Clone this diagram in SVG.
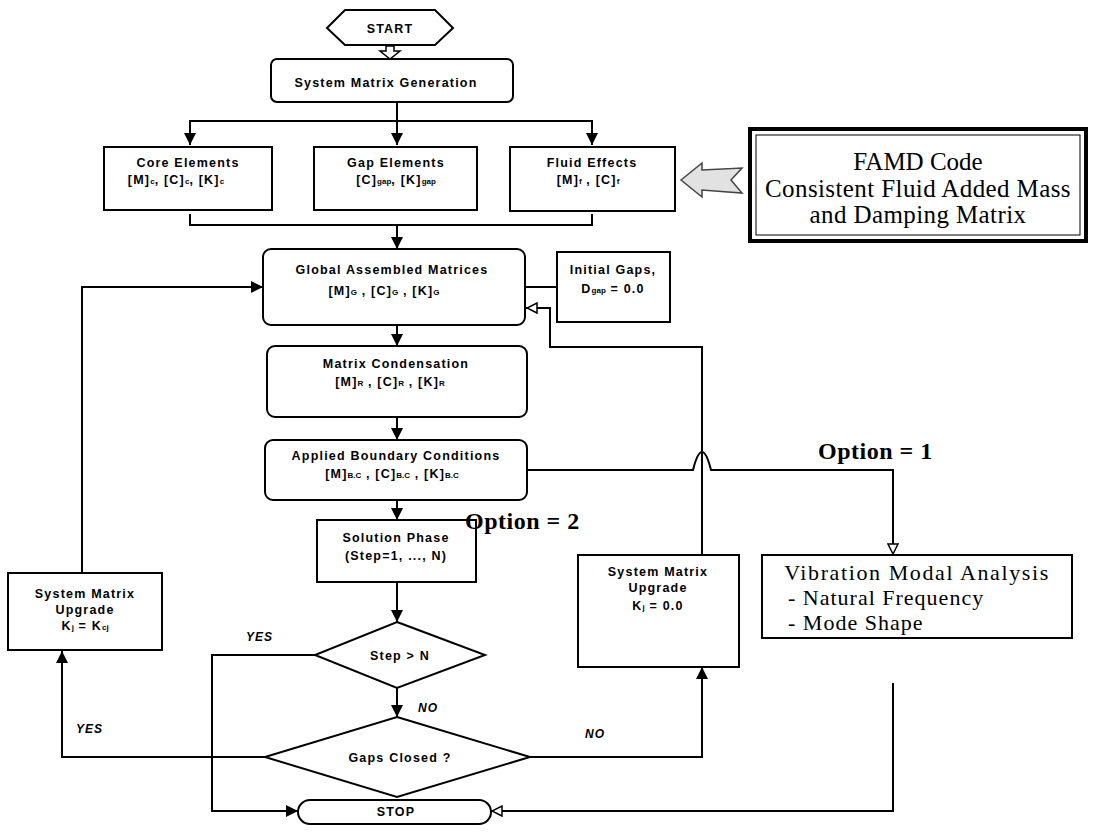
<svg xmlns="http://www.w3.org/2000/svg" width="1099" height="833" viewBox="0 0 1099 833">
<defs>
<style>
.box{fill:#fff;stroke:#000;stroke-width:2}
.ln{fill:none;stroke:#000;stroke-width:2}
.t{font-family:"Liberation Sans",Arial,sans-serif;font-weight:bold;font-size:12.5px;letter-spacing:1.2px;fill:#000;text-anchor:middle}
.s{font-size:8px;letter-spacing:0}
.lab{font-family:"Liberation Sans",Arial,sans-serif;font-weight:bold;font-style:italic;font-size:12px;letter-spacing:1px;fill:#000}
.serif{font-family:"Liberation Serif","Times New Roman",serif;fill:#000}
</style>
<marker id="af" viewBox="0 0 12 12" refX="12" refY="6" markerWidth="12" markerHeight="12" markerUnits="userSpaceOnUse" orient="auto"><path d="M0,0 L12,6 L0,12 Z" fill="#000"/></marker>
<marker id="ah" viewBox="0 0 12 12" refX="12" refY="6" markerWidth="12" markerHeight="12" markerUnits="userSpaceOnUse" orient="auto"><path d="M1,1 L11,6 L1,11 Z" fill="#fff" stroke="#000" stroke-width="1.5"/></marker>
</defs>
<rect width="1099" height="833" fill="#fff"/>

<g id="connectors">
<polygon points="386,46 394,46 394,51 400,51 390,59 380,51 386,51" fill="#fff" stroke="#000" stroke-width="1.5"/>
<path class="ln" d="M397,102 V121"/>
<path class="ln" d="M190,121 H592"/>
<path class="ln" d="M190,120 V145" marker-end="url(#af)"/>
<path class="ln" d="M397,120 V145" marker-end="url(#af)"/>
<path class="ln" d="M592,120 V145" marker-end="url(#af)"/>
<path class="ln" d="M190,214 V225 H592 V214"/>
<path class="ln" d="M397,225 V249" marker-end="url(#af)"/>
<path class="ln" d="M397,325 V346" marker-end="url(#af)"/>
<path class="ln" d="M397,417 V440" marker-end="url(#af)"/>
<path class="ln" d="M397,500 V520" marker-end="url(#af)"/>
<path class="ln" d="M397,582 V622" marker-end="url(#af)"/>
<path class="ln" d="M397,688 V717" marker-end="url(#af)"/>
<path class="ln" d="M525,287 H557"/>
<path class="ln" d="M702,555 V347 H550 V308 H526" marker-end="url(#ah)"/>
<path class="ln" d="M315,655 H212 V811 H298" marker-end="url(#af)"/>
<path class="ln" d="M265,757 H62 V651" marker-end="url(#af)"/>
<path class="ln" d="M82,573 V287 H263" marker-end="url(#af)"/>
<path class="ln" d="M530,757 H702 V667" marker-end="url(#af)"/>
<path class="ln" d="M527,470 H693 Q702,434 711,470 H893 V555" marker-end="url(#ah)"/>
<path class="ln" d="M893,683 V811 H491" marker-end="url(#ah)"/>
<polygon points="681,180 702,163 702,170 742,168 731,180 742,193 702,190 702,197" fill="#e2e2e2" stroke="#444" stroke-width="1.5"/>
</g>

<g id="start">
<polygon class="box" points="327,28 345,10 435,10 453,28 435,45 345,45"/>
<text class="t" x="390" y="33">START</text>
</g>

<g id="smg">
<rect class="box" x="271" y="59" width="242" height="43" rx="6"/>
<text class="t" x="386" y="87">System Matrix Generation</text>
</g>

<g id="core">
<rect class="box" x="104" y="147" width="168" height="63"/>
<text class="t" x="188" y="167">Core Elements</text>
<text class="t" x="176" y="184">[M]<tspan class="s">c</tspan>, [C]<tspan class="s">c</tspan>, [K]<tspan class="s">c</tspan></text>
</g>

<g id="gap">
<rect class="box" x="314" y="147" width="163" height="63"/>
<text class="t" x="396" y="167">Gap Elements</text>
<text class="t" x="396" y="184">[C]<tspan class="s">gap</tspan>, [K]<tspan class="s">gap</tspan></text>
</g>

<g id="fluid">
<rect class="box" x="510" y="147" width="165" height="64"/>
<text class="t" x="592" y="167">Fluid Effects</text>
<text class="t" x="588" y="184">[M]<tspan class="s">f</tspan> , [C]<tspan class="s">f</tspan></text>
</g>

<g id="famd">
<rect x="750" y="129" width="336" height="112" fill="#fff" stroke="#000" stroke-width="4"/>
<rect x="756" y="135" width="324" height="100" fill="none" stroke="#000" stroke-width="1"/>
<text class="serif" x="918" y="170" font-size="25" text-anchor="middle">FAMD Code</text>
<text class="serif" x="918" y="197" font-size="25" text-anchor="middle" letter-spacing="0.4">Consistent Fluid Added Mass</text>
<text class="serif" x="918" y="223" font-size="25" text-anchor="middle" letter-spacing="0.4">and Damping Matrix</text>
</g>

<g id="global">
<rect class="box" x="263" y="249" width="262" height="76" rx="8"/>
<text class="t" x="392" y="274">Global Assembled Matrices</text>
<text class="t" x="384" y="295">[M]<tspan class="s">G</tspan> , [C]<tspan class="s">G</tspan> , [K]<tspan class="s">G</tspan></text>
</g>

<g id="initial">
<rect class="box" x="557" y="252" width="113" height="70"/>
<text class="t" x="613" y="274">Initial Gaps,</text>
<text class="t" x="613" y="293">D<tspan class="s">gap</tspan> = 0.0</text>
</g>

<g id="condensation">
<rect class="box" x="267" y="346" width="260" height="71" rx="8"/>
<text class="t" x="396" y="368">Matrix Condensation</text>
<text class="t" x="390" y="386">[M]<tspan class="s">R</tspan> , [C]<tspan class="s">R</tspan> , [K]<tspan class="s">R</tspan></text>
</g>

<g id="boundary">
<rect class="box" x="265" y="440" width="262" height="60" rx="8"/>
<text class="t" x="396" y="460">Applied Boundary Conditions</text>
<text class="t" x="392" y="478">[M]<tspan class="s">B.C</tspan> , [C]<tspan class="s">B.C</tspan> , [K]<tspan class="s">B.C</tspan></text>
</g>

<g id="solution">
<rect class="box" x="317" y="520" width="159" height="62"/>
<text class="t" x="396" y="542">Solution Phase</text>
<text class="t" x="396" y="560">(Step=1, ..., N)</text>
</g>

<g id="step">
<polygon class="box" points="397,622 485,655 397,688 315,655"/>
<text class="t" x="400" y="660">Step &gt; N</text>
</g>

<g id="gaps">
<polygon class="box" points="397,717 530,757 397,797 265,757"/>
<text class="t" x="400" y="762">Gaps Closed ?</text>
</g>

<g id="stop">
<rect class="box" x="298" y="800" width="193" height="24" rx="12"/>
<text class="t" x="396" y="816">STOP</text>
</g>

<g id="upgrade-left">
<rect class="box" x="8" y="573" width="154" height="77"/>
<text class="t" x="85" y="598">System Matrix</text>
<text class="t" x="85" y="614">Upgrade</text>
<text class="t" x="85" y="630">K<tspan class="s">j</tspan> = K<tspan class="s">cj</tspan></text>
</g>

<g id="upgrade-right">
<rect class="box" x="578" y="555" width="161" height="112"/>
<text class="t" x="658" y="576">System Matrix</text>
<text class="t" x="658" y="592">Upgrade</text>
<text class="t" x="658" y="610">K<tspan class="s">j</tspan> = 0.0</text>
</g>

<g id="vibration">
<rect class="box" x="762" y="555" width="310" height="83"/>
<text class="serif" x="917" y="580" font-size="22" text-anchor="middle" letter-spacing="1.6">Vibration Modal Analysis</text>
<text class="serif" x="788" y="605" font-size="22" letter-spacing="1">-  Natural Frequency</text>
<text class="serif" x="788" y="630" font-size="22" letter-spacing="1">-  Mode Shape</text>
</g>

<g id="labels">
<text class="serif" x="818" y="459" font-size="24" font-weight="bold" letter-spacing="0.5">Option = 1</text>
<text class="serif" x="465" y="529" font-size="24" font-weight="bold" letter-spacing="0.5">Option = 2</text>
<text class="lab" x="246" y="641">YES</text>
<text class="lab" x="418" y="712">NO</text>
<text class="lab" x="76" y="733">YES</text>
<text class="lab" x="585" y="738">NO</text>
</g>
</svg>
